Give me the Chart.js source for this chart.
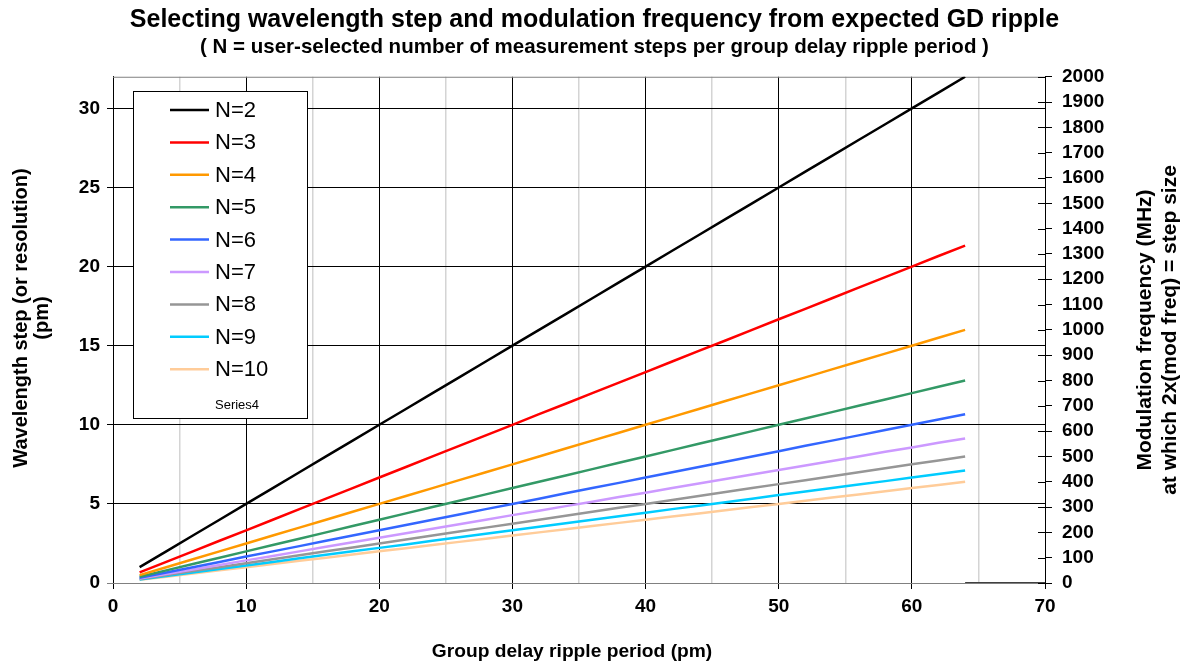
<!DOCTYPE html>
<html><head><meta charset="utf-8">
<script src="https://cdn.jsdelivr.net/npm/chart.js@4/dist/chart.umd.min.js"></script>
<style>html,body{margin:0;padding:0;background:#fff;}#wrap{width:1189px;height:667px;position:relative;}</style>
</head><body><div id="wrap"><canvas id="c" width="1189" height="667"></canvas></div>
<script>
const periods = [2,4,6,8,10,12,14,16,18,20,22,24,26,28,30,32,34,36,38,40,42,44,46,48,50,52,54,56,58,60,62,64];
const seriesNames = ['N=2','N=3','N=4','N=5','N=6','N=7','N=8','N=9','N=10'];
const stepN2 = [1,2,3,4,5,6,7,8,9,10,11,12,13,14,15,16,17,18,19,20,21,22,23,24,25,26,27,28,29,30,31,32];
const stepN3 = [0.67,1.33,2,2.67,3.33,4,4.67,5.33,6,6.67,7.33,8,8.67,9.33,10,10.67,11.33,12,12.67,13.33,14,14.67,15.33,16,16.67,17.33,18,18.67,19.33,20,20.67,21.33];
const stepN4 = [0.5,1,1.5,2,2.5,3,3.5,4,4.5,5,5.5,6,6.5,7,7.5,8,8.5,9,9.5,10,10.5,11,11.5,12,12.5,13,13.5,14,14.5,15,15.5,16];
const stepN5 = [0.4,0.8,1.2,1.6,2,2.4,2.8,3.2,3.6,4,4.4,4.8,5.2,5.6,6,6.4,6.8,7.2,7.6,8,8.4,8.8,9.2,9.6,10,10.4,10.8,11.2,11.6,12,12.4,12.8];
const stepN6 = [0.33,0.67,1,1.33,1.67,2,2.33,2.67,3,3.33,3.67,4,4.33,4.67,5,5.33,5.67,6,6.33,6.67,7,7.33,7.67,8,8.33,8.67,9,9.33,9.67,10,10.33,10.67];
const stepN7 = [0.29,0.57,0.86,1.14,1.43,1.71,2,2.29,2.57,2.86,3.14,3.43,3.71,4,4.29,4.57,4.86,5.14,5.43,5.71,6,6.29,6.57,6.86,7.14,7.43,7.71,8,8.29,8.57,8.86,9.14];
const stepN8 = [0.25,0.5,0.75,1,1.25,1.5,1.75,2,2.25,2.5,2.75,3,3.25,3.5,3.75,4,4.25,4.5,4.75,5,5.25,5.5,5.75,6,6.25,6.5,6.75,7,7.25,7.5,7.75,8];
const stepN9 = [0.22,0.44,0.67,0.89,1.11,1.33,1.56,1.78,2,2.22,2.44,2.67,2.89,3.11,3.33,3.56,3.78,4,4.22,4.44,4.67,4.89,5.11,5.33,5.56,5.78,6,6.22,6.44,6.67,6.89,7.11];
const stepN10 = [0.2,0.4,0.6,0.8,1,1.2,1.4,1.6,1.8,2,2.2,2.4,2.6,2.8,3,3.2,3.4,3.6,3.8,4,4.2,4.4,4.6,4.8,5,5.2,5.4,5.6,5.8,6,6.2,6.4];
const series4X = [64,70];
const series4Y = [0,0];
const xTickValues = [0,5,10,15,20,25,30,35,40,45,50,55,60,65,70];
const yTickValues = [0,5,10,15,20,25,30];
const y2TickValues = [0,100,200,300,400,500,600,700,800,900,1000,1100,1200,1300,1400,1500,1600,1700,1800,1900,2000];
const allSteps = [stepN2,stepN3,stepN4,stepN5,stepN6,stepN7,stepN8,stepN9,stepN10];
const colors = ['#000000','#ff0000','#ff9900','#339966','#3366ff','#cc99ff','#969696','#00ccff','#ffcc99'];

const FONT = '"Liberation Sans", Arial, sans-serif';
const datasets = allSteps.map((arr,i)=>({
  label: seriesNames[i],
  data: periods.map((p,j)=>({x:p,y:arr[j]})),
  borderColor: colors[i], backgroundColor: colors[i],
  borderWidth: 2.5, pointRadius: 0, tension: 0, yAxisID: 'y'
}));
datasets.push({label:'Series4', data: series4X.map((p,j)=>({x:p,y:series4Y[j]})), borderColor:'#404040', borderWidth:2, pointRadius:0, yAxisID:'y'});

const setTicks = vals => s => { s.ticks = vals.map(v=>({value:v})); };

const framePlugin = {
  id:'frame',
  beforeDatasetsDraw(chart){
    const {ctx, chartArea:a} = chart;
    ctx.save();
    ctx.strokeStyle='#808080'; ctx.lineWidth=1;
    ctx.beginPath(); ctx.moveTo(a.left, a.top+0.5); ctx.lineTo(a.right, a.top+0.5); ctx.stroke();
    ctx.beginPath(); ctx.moveTo(a.left-6, a.bottom+0.5); ctx.lineTo(a.right, a.bottom+0.5); ctx.stroke();
    const y2 = chart.scales.y2;
    ctx.strokeStyle='#000';
    y2.ticks.forEach(t=>{
      const py = Math.round(y2.getPixelForValue(t.value))+0.5;
      ctx.beginPath(); ctx.moveTo(a.right-7, py); ctx.lineTo(a.right, py); ctx.stroke();
    });
    ctx.restore();
  },
  afterDraw(chart){
    const {ctx, chartArea:a} = chart;
    ctx.save();
    ctx.fillStyle='#000';
    ctx.font = 'bold 19.2px '+FONT;
    ctx.textAlign='center'; ctx.textBaseline='middle';
    ctx.fillText('Group delay ripple period (pm)', 572, 652);
    ctx.restore();
    ctx.save();
    ctx.fillStyle='#000'; ctx.font = 'bold 20px '+FONT;
    ctx.textAlign='center'; ctx.textBaseline='middle';
    ctx.translate(21, 318); ctx.rotate(-Math.PI/2);
    ctx.fillText('Wavelength step (or resolution)', 0, 0);
    ctx.fillText('(pm)', 0, 21);
    ctx.restore();
    ctx.save();
    ctx.fillStyle='#000'; ctx.font = 'bold 21px '+FONT;
    ctx.textAlign='center'; ctx.textBaseline='middle';
    ctx.translate(1145, 330); ctx.rotate(-Math.PI/2);
    ctx.fillText('Modulation frequency (MHz)', 0, 0);
    ctx.fillText('at which 2x(mod freq) = step size', 0, 25);
    ctx.restore();
    ctx.save();
    const bx=133.5, by=91.5, bw=174, bh=327;
    ctx.fillStyle='#fff'; ctx.fillRect(bx,by,bw,bh);
    ctx.strokeStyle='#000'; ctx.lineWidth=1; ctx.strokeRect(bx,by,bw,bh);
    ctx.font = '22px '+FONT; ctx.textBaseline='middle'; ctx.textAlign='left';
    chart.data.datasets.forEach((ds,i)=>{
      if (i>=9) return;
      const y = 110 + i*32.4;
      ctx.strokeStyle = ds.borderColor; ctx.lineWidth=2.5;
      ctx.beginPath(); ctx.moveTo(170,y); ctx.lineTo(209,y); ctx.stroke();
      ctx.fillStyle='#000'; ctx.fillText(ds.label, 215, y+1);
    });
    ctx.font = '13px '+FONT; ctx.fillStyle='#000';
    ctx.fillText(chart.data.datasets[9].label, 215, 405);
    ctx.restore();
  }
};

new Chart(document.getElementById('c'), {
  type:'line',
  data:{datasets},
  options:{
    responsive:false, animation:false, devicePixelRatio:1,
    layout:{padding:0},
    plugins:{
      legend:{display:false}, tooltip:{enabled:false},
      title:{display:true, text:'Selecting wavelength step and modulation frequency from expected GD ripple',
        color:'#000', font:{family:FONT, size:25, weight:'bold', lineHeight:1.1}, padding:{top:6.5,bottom:0}},
      subtitle:{display:true, text:'( N = user-selected number of measurement steps per group delay ripple period )',
        color:'#000', font:{family:FONT, size:20.5, weight:'bold', lineHeight:1.1}, padding:{top:2.5,bottom:17.7}}
    },
    scales:{
      x:{type:'linear', position:'bottom', min:0, max:70,
        afterBuildTicks:setTicks(xTickValues),
        ticks:{autoSkip:false, maxRotation:0, color:'#000', padding:6,
          font:{family:FONT, size:19, weight:'bold'},
          callback:v=> v%10===0 ? String(v) : ''},
        grid:{color:c=> (c.tick && c.tick.value%10===0) ? '#000' : '#d4d4d4',
          tickColor:c=> (c.tick && c.tick.value%10===0) ? '#000' : 'rgba(0,0,0,0)',
          lineWidth:c=> (c.tick && c.tick.value%10===0) ? 1 : 1.5,
          tickLength:6},
        border:{display:false},
        afterFit:s=>{s.height=84;}
      },
      y:{type:'linear', position:'left', min:0, max:32,
        afterBuildTicks:setTicks(yTickValues),
        ticks:{autoSkip:false, color:'#000', padding:7,
          font:{family:FONT, size:19, weight:'bold'}},
        grid:{color:c=> (c.tick && c.tick.value===0) ? 'rgba(0,0,0,0)' : '#000', tickColor:'#000', tickLength:6},
        border:{display:true, color:'#000', width:1},
        afterFit:s=>{s.width=113;}
      },
      y2:{type:'linear', position:'right', min:0, max:2000,
        afterBuildTicks:setTicks(y2TickValues),
        ticks:{autoSkip:false, color:'#000', padding:10,
          font:{family:FONT, size:19, weight:'bold'},
          callback:v=>String(v)},
        grid:{drawOnChartArea:false, tickColor:'#000', tickLength:7},
        border:{display:true, color:'#000', width:1},
        afterFit:s=>{s.width=144;}
      }
    }
  },
  plugins:[framePlugin]
});
</script></body></html>
